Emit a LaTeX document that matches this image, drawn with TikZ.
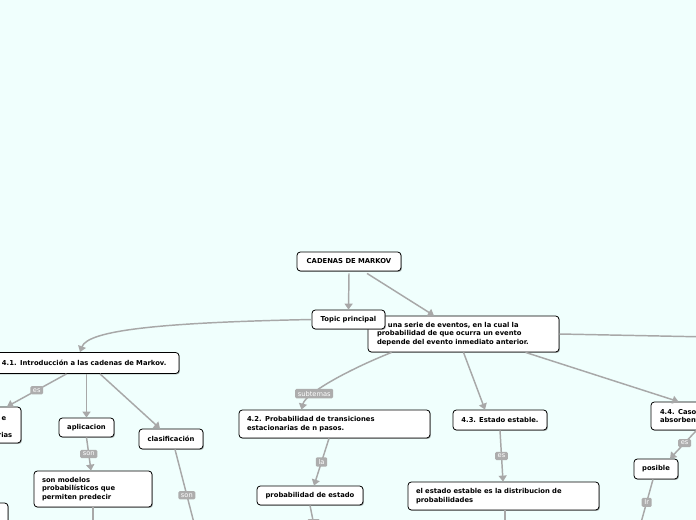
\documentclass[tikz,border=0pt]{standalone}
\usepackage{fontspec}
\newfontfamily\mapfont{DejaVu Sans}
\usetikzlibrary{arrows.meta,positioning,calc,shadows}
\definecolor{mapbg}{HTML}{F0FFFD}
\definecolor{linkgray}{HTML}{A8A8A8}
\definecolor{tagfill}{HTML}{ADADAD}
\tikzset{
  topicbox/.style={draw=black, fill=white, line width=0.6pt, rounded corners=2.5pt,
    font=\mapfont\bfseries\fontsize{5.1}{6.4}\selectfont, inner xsep=0pt, inner ysep=0pt,
    drop shadow={shadow xshift=0.7pt, shadow yshift=-0.7pt, opacity=0.45, fill=black!70}},
  boxtext/.style={font=\mapfont\bfseries\fontsize{5.1}{6.4}\selectfont, inner sep=0pt},
  link/.style={draw=linkgray, line width=1.1pt, -{Triangle[length=4.5pt,width=6pt]}},
  tag/.style={fill=tagfill, text=white, font=\mapfont\fontsize{5}{6}\selectfont,
    inner xsep=2pt, inner ysep=1.6pt, rounded corners=1pt}
}

\begin{document}
\begin{tikzpicture}[x=0.75pt,y=-0.75pt]
\fill[mapbg] (0,0) rectangle (696,520);
\useasboundingbox (0,0) rectangle (696,520);

% main topics
\node[topicbox, minimum width=78pt, minimum height=14.25pt] (mark) at (349,261.5) {CADENAS DE MARKOV};
\node[topicbox, minimum width=143.25pt, minimum height=27pt, text width=129.75pt, align=left] (desc) at (463.5,334)
  {\phantom{es} una serie de eventos, en la cual la\\probabilidad de que ocurra un evento\\depende del evento inmediato anterior.};
\node[topicbox, minimum width=54.75pt, minimum height=14.25pt] (topic) at (348.5,319.5) {Topic principal};
\coordinate (rightout) at (760,338);

% 4.1
\node[topicbox, minimum width=138.75pt, minimum height=15.75pt, text width=126.75pt, align=left] (intro) at (86.5,363)
  {4.1. Introducción a las cadenas de Markov.};
\node[topicbox, minimum width=60.75pt, minimum height=27pt] (leftbox) at (-19.5,425) {};
\node[boxtext, anchor=base east] (lefttop) at (6.5,420) {e};
\node[boxtext, anchor=base east] (leftbot) at (12.5,437) {rias};
\node[topicbox, minimum width=41.25pt, minimum height=14.25pt] (aplic) at (86.5,427.5) {aplicacion};
\node[topicbox, minimum width=48pt, minimum height=15pt] (clasif) at (171,439) {clasificación};
\node[topicbox, minimum width=88.5pt, minimum height=27pt, text width=76.5pt, align=left] (modelos) at (93,489)
  {son modelos\\probabilísticos que\\permiten predecir};
\node[topicbox, minimum width=51pt, minimum height=27.75pt] (lowbox) at (-26,521.5) {};
\coordinate (clasifout) at (199.7,545);
\coordinate (modelosout) at (93,545);

% 4.2
\node[topicbox, minimum width=143.25pt, minimum height=21pt, text width=131.25pt, align=left] (trans) at (334.5,424)
  {4.2. Probabilidad de transiciones\\estacionarias de n pasos.};
\node[topicbox, minimum width=79.5pt, minimum height=14.25pt] (pestado) at (310,495.5) {probabilidad de estado};
\coordinate (pestadoout) at (318,545);

% 4.3
\node[topicbox, minimum width=70.5pt, minimum height=15pt] (estable) at (500,420) {4.3. Estado estable.};
\node[topicbox, minimum width=143.25pt, minimum height=21pt, text width=131.25pt, align=left] (distrib) at (503.5,496)
  {el estado estable es la distribucion de\\probabilidades};
\coordinate (distribout) at (505,545);

% 4.4
\node[topicbox, minimum width=81.75pt, minimum height=21pt, text width=68.25pt, align=left] (casos) at (705.5,416)
  {4.4. Casos\\absorbentes};
\node[topicbox, minimum width=33pt, minimum height=15pt] (posible) at (656,469) {posible};
\coordinate (posibleout) at (634.8,545);

% connectors
\draw[link] ($(mark.south)+(0,2)$) -- (topic.north);
\draw[link] ($(mark.south)+(18,2)$) -- ($(desc.north)+(-29.5,0)$);
\draw[link] (topic.west) .. controls +(-150,3) and +(8,-22) .. ($(intro.north)+(-6.5,0)$);
\draw[link,-] (desc.east) -- (rightout);
\draw[link] ($(desc.south west)+(24,0)$) .. controls +(-45,18) and +(4,-16) .. ($(trans.north)+(-33,0)$)
  node[tag,pos=0.7] {subtemas};
\draw[link] (desc.south) -- ($(estable.north)+(-15,0)$);
\draw[link] ($(desc.south)+(62,0)$) -- ($(casos.north)+(-27,0)$);

\draw[link] ($(intro.south)+(-20,0)$) -- ($(leftbox.north)+(26.5,0)$) node[tag,midway] {es};
\draw[link] (intro.south) -- (aplic.north);
\draw[link] ($(intro.south)+(13.5,0)$) -- ($(clasif.north)+(-11,0)$);
\draw[link] (aplic.south) -- ($(modelos.north)+(-2,0)$) node[tag,midway] {son};
\draw[link] ($(clasif.south)+(4,0)$) -- (clasifout) node[tag,pos=0.48] {son};
\draw[link] (modelos.south) -- (modelosout);

\draw[link] ($(trans.south)+(-5.5,0)$) -- ($(pestado.north)+(4,0)$) node[tag,midway] {la};
\draw[link] (pestado.south) -- (pestadoout) node[tag,pos=0.45] {\phantom{es}};

\draw[link] (estable.south) -- ($(distrib.north)+(-0.5,0)$) node[tag,midway] {es};
\draw[link] ($(distrib.south)+(1.5,0)$) -- (distribout);

\draw[link] ($(casos.south)+(-9,0)$) -- ($(posible.north)+(14,0)$) node[tag,pos=0.45] {es};
\draw[link] ($(posible.south)+(-3,0)$) -- (posibleout) node[tag,pos=0.35] {Ir};
\end{tikzpicture}
\end{document}
